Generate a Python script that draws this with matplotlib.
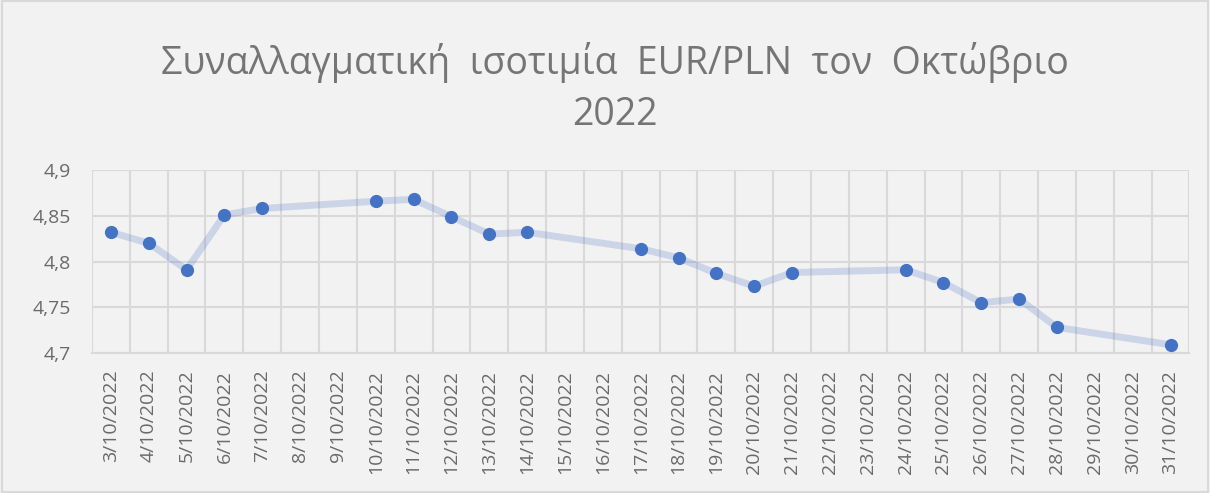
import matplotlib.pyplot as plt
import numpy as np

# all calendar days on the axis and the trading days with their rate
days = list(range(3, 32))
labels = [f"{d}/10/2022" for d in days]
trade_days = [3, 4, 5, 6, 7, 10, 11, 12, 13, 14, 17, 18, 19, 20, 21, 24, 25, 26, 27, 28, 31]
rates = [4.832, 4.820, 4.791, 4.851, 4.858, 4.866, 4.868, 4.849, 4.830, 4.832,
         4.814, 4.804, 4.787, 4.773, 4.788, 4.791, 4.777, 4.755, 4.759, 4.728, 4.709]

plt.rcParams['font.family'] = ['Open Sans', 'DejaVu Sans']
bg = '#F2F2F2'
grey = '#6A6A6A'
gridc = '#D9D9D9'

fig = plt.figure(figsize=(12.1, 4.93), dpi=100, facecolor=bg)
ax = fig.add_axes([0.076, 0.284, 0.907, 0.371], facecolor=bg)

x = [days.index(d) for d in trade_days]
ax.plot(x, rates, color='#4472C4', alpha=0.22, linewidth=5, solid_capstyle='round', zorder=2)
ax.plot(x, rates, linestyle='none', marker='o', markersize=8.5, color='#4472C4', zorder=3)

ax.set_xlim(-0.5, len(days) - 0.5)
ax.set_ylim(4.7, 4.9)
ax.set_yticks(np.arange(4.7, 4.901, 0.05))
ax.set_yticklabels(['4,7', '4,75', '4,8', '4,85', '4,9'])
ax.set_xticks(range(len(days)))
ax.set_xticklabels(labels, rotation=90)
ax.set_xticks(np.arange(-0.5, len(days), 1), minor=True)

ax.grid(axis='y', which='major', color=gridc, linewidth=1.5)
ax.grid(axis='x', which='minor', color=gridc, linewidth=1.5)
ax.tick_params(axis='both', which='both', length=0, colors=grey)
ax.tick_params(axis='y', labelsize=14, pad=15)
ax.tick_params(axis='x', labelsize=14, pad=12)
for s in ['top', 'left', 'right']:
    ax.spines[s].set_visible(False)
ax.spines['bottom'].set_color(gridc)
ax.spines['bottom'].set_linewidth(1.5)
ax.set_axisbelow(True)

fig.text(0.508, 0.874, 'Συναλλαγματική  ισοτιμία  EUR/PLN  τον  Οκτώβριο', ha='center', va='center',
         fontsize=27, color='#757575')
fig.text(0.508, 0.766, '2022', ha='center', va='center', fontsize=27, color='#757575')

fig.add_artist(plt.Rectangle((0.002, 0.002), 0.996, 0.996, transform=fig.transFigure,
                             fill=False, edgecolor=gridc, linewidth=1.5))

fig.savefig('out.png', dpi=100, facecolor=bg)
